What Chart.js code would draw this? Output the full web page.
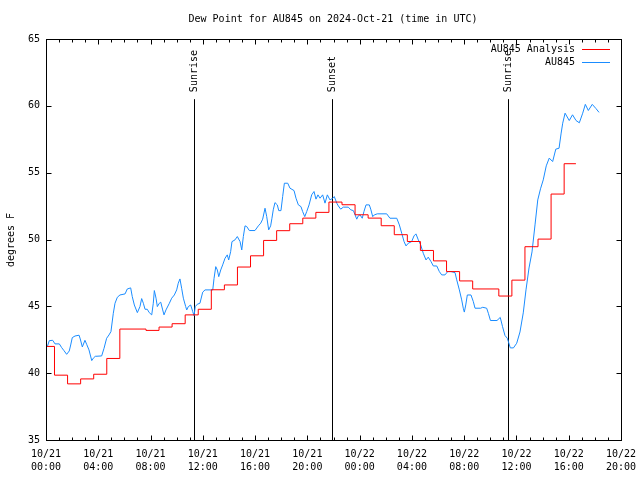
<!DOCTYPE html>
<html>
<head>
<meta charset="utf-8">
<script src="https://cdn.jsdelivr.net/npm/chart.js@4/dist/chart.umd.min.js"></script>
<style>
  html, body { margin: 0; padding: 0; background: #fff; }
  #wrap { width: 640px; height: 480px; }
</style>
</head>
<body>
<div id="wrap"><canvas id="dew" width="640" height="480"></canvas></div>
<script>
// hours since 2024-10-21 00:00 UTC
const blueHours = [0.10, 0.25, 0.51, 0.69, 1.02, 1.20, 1.38, 1.58, 1.78, 1.89, 2.01, 2.22, 2.53, 2.62, 2.78, 2.98, 3.11, 3.29, 3.50, 3.62,
    3.77, 4.26, 4.44, 4.64, 4.82, 4.97, 5.15, 5.28, 5.46, 5.66, 6.05, 6.22, 6.48, 6.60, 6.76, 6.99, 7.19, 7.32, 7.45, 7.58,
    7.75, 7.90, 8.09, 8.21, 8.29, 8.42, 8.52, 8.67, 8.78, 8.93, 9.03, 9.18, 9.44, 9.62, 9.82, 10.00, 10.12, 10.25, 10.38, 10.51,
    10.69, 10.77, 10.89, 11.07, 11.23, 11.33, 11.42, 11.58, 11.78, 11.99, 12.17, 12.76, 12.86, 12.99, 13.11, 13.22, 13.37, 13.52, 13.70, 13.87,
    13.98, 14.13, 14.23, 14.46, 14.64, 14.85, 14.98, 15.10, 15.23, 15.36, 15.56, 15.99, 16.25, 16.43, 16.58, 16.76, 16.89, 17.04, 17.19, 17.29,
    17.39, 17.52, 17.70, 17.81, 17.98, 18.11, 18.24, 18.50, 18.67, 18.98, 19.13, 19.31, 19.51, 19.64, 19.80, 19.95, 20.13, 20.33, 20.51, 20.66,
    20.81, 20.97, 21.17, 21.35, 21.53, 21.73, 21.94, 22.06, 22.25, 22.37, 22.55, 22.75, 23.13, 23.32, 23.52, 23.65, 23.78, 23.90, 24.03, 24.20,
    24.33, 24.49, 24.74, 24.85, 25.00, 25.12, 25.35, 26.07, 26.32, 26.84, 27.04, 27.22, 27.40, 27.55, 27.72, 27.98, 28.16, 28.31, 28.49, 28.67,
    28.87, 29.08, 29.25, 29.46, 29.64, 29.90, 30.10, 30.28, 30.53, 30.74, 30.99, 31.30, 31.43, 31.63, 31.81, 31.93, 32.01, 32.12, 32.24, 32.52,
    32.70, 32.83, 33.26, 33.42, 33.72, 33.85, 34.01, 34.51, 34.76, 34.93, 35.12, 35.30, 35.39, 35.53, 35.77, 36.02, 36.27, 36.52, 36.73, 36.96,
    37.19, 37.42, 37.63, 37.84, 38.05, 38.28, 38.51, 38.77, 39.01, 39.26, 39.42, 39.54, 39.72, 40.04, 40.29, 40.56, 40.81, 41.07, 41.27, 41.50,
    41.80, 42.09, 42.32];
const blueDewPoint = [41.98, 42.43, 42.46, 42.19, 42.19, 41.91, 41.68, 41.41, 41.66, 42.11, 42.66, 42.78, 42.84, 42.56, 41.96, 42.46, 42.16, 41.74, 40.94, 41.12,
    41.26, 41.29, 41.86, 42.61, 42.86, 43.11, 44.48, 45.23, 45.68, 45.85, 45.93, 46.30, 46.38, 45.73, 45.10, 44.53, 44.98, 45.58, 45.23, 44.78,
    44.78, 44.53, 44.36, 45.23, 46.18, 45.61, 44.98, 45.23, 45.31, 44.73, 44.36, 44.73, 45.23, 45.61, 45.85, 46.23, 46.73, 47.05, 46.35, 45.61,
    44.98, 44.73, 44.98, 45.10, 44.60, 44.30, 44.98, 45.16, 45.23, 46.06, 46.23, 46.23, 47.10, 47.97, 47.72, 47.22, 47.72, 48.10, 48.60, 48.85,
    48.47, 49.09, 49.84, 49.97, 50.22, 49.84, 49.22, 50.22, 51.02, 50.97, 50.67, 50.67, 51.02, 51.22, 51.52, 52.34, 51.71, 50.72, 51.02, 51.59,
    52.22, 52.76, 52.59, 52.16, 52.16, 53.21, 54.21, 54.21, 53.84, 53.66, 53.09, 52.59, 52.46, 52.09, 51.71, 52.09, 52.59, 53.34, 53.59, 53.02,
    53.34, 53.09, 53.34, 52.72, 53.34, 52.96, 53.09, 53.21, 52.72, 52.51, 52.27, 52.42, 52.42, 52.22, 52.16, 51.84, 51.52, 51.77, 51.84, 51.59,
    52.09, 52.59, 52.59, 52.27, 51.71, 51.84, 51.92, 51.92, 51.59, 51.59, 51.09, 50.47, 49.84, 49.52, 49.72, 49.84, 50.27, 50.42, 49.97, 49.60,
    48.97, 48.47, 48.68, 48.35, 48.02, 48.02, 47.60, 47.35, 47.35, 47.60, 47.60, 47.52, 46.98, 46.23, 45.48, 44.86, 44.57, 45.10, 45.85, 45.85,
    45.35, 44.86, 44.86, 44.93, 44.86, 44.48, 43.94, 43.94, 44.17, 43.50, 42.82, 42.61, 42.34, 41.89, 41.89, 42.24, 43.08, 44.51, 46.23, 47.87,
    49.07, 51.09, 52.96, 53.79, 54.46, 55.51, 56.09, 55.83, 56.76, 56.83, 57.96, 58.70, 59.45, 58.90, 59.33, 58.90, 58.73, 59.45, 60.11, 59.65,
    60.11, 59.79, 59.51];

// analysis: value holds from each time until the next one
const redHours = [0, 0.65, 1.65, 2.65, 3.65, 4.65, 5.65, 7.65, 8.65, 9.65, 10.65, 11.65, 12.65, 13.65, 14.65, 15.65, 16.65, 17.65, 18.65, 19.65,
    20.65, 21.65, 22.65, 23.65, 24.65, 25.65, 26.65, 27.65, 28.65, 29.65, 30.65, 31.65, 32.65, 34.65, 35.65, 36.65, 37.65, 38.65, 39.65, 40.55];
const redDewPoint = [42.0, 39.85, 39.2, 39.57, 39.92, 41.1, 43.3, 43.2, 43.45, 43.7, 44.36, 44.78, 46.24, 46.6, 47.94, 48.78, 49.93, 50.66, 51.18, 51.6,
    52.03, 52.8, 52.6, 51.85, 51.6, 51.03, 50.36, 49.85, 49.18, 48.4, 47.6, 46.9, 46.3, 45.77, 46.96, 49.46, 50.03, 53.4, 55.67, 55.67];

const eventHours = [11.35, 21.9, 35.37];
const eventNames = ['Sunrise', 'Sunset', 'Sunrise'];

const xTickLabels = ['10/21 00:00', '10/21 04:00', '10/21 08:00', '10/21 12:00', '10/21 16:00', '10/21 20:00',
    '10/22 00:00', '10/22 04:00', '10/22 08:00', '10/22 12:00', '10/22 16:00', '10/22 20:00'];

const FONT = '10px "DejaVu Sans Mono"';
const RED = '#ff0000';
const BLUE = '#1a8cff';

const decor = {
    id: 'decor',
    beforeDatasetsDraw(chart) {
        const { ctx, chartArea: a, scales: { x } } = chart;
        const h = a.bottom - a.top;
        ctx.save();
        ctx.strokeStyle = '#000';
        ctx.fillStyle = '#000';
        ctx.lineWidth = 1;
        ctx.font = FONT;
        eventHours.forEach((t, i) => {
            const px = Math.round(x.getPixelForValue(t)) + 0.5;
            ctx.beginPath();
            ctx.moveTo(px, a.bottom - 0.85 * h);
            ctx.lineTo(px, a.bottom);
            ctx.stroke();
            ctx.save();
            ctx.translate(px, a.bottom - 0.87 * h + 1);
            ctx.rotate(-Math.PI / 2);
            ctx.textAlign = 'left';
            ctx.textBaseline = 'middle';
            ctx.fillText(eventNames[i], 0, 0);
            ctx.restore();
        });
        ctx.restore();
    },
    afterDraw(chart) {
        const { ctx, chartArea: a, scales: { x, y } } = chart;
        ctx.save();
        ctx.strokeStyle = '#000';
        ctx.lineWidth = 1;
        const L = Math.round(a.left) + 0.5, R = Math.round(a.right) + 0.5;
        const T = Math.round(a.top) + 0.5, B = Math.round(a.bottom) + 0.5;
        ctx.strokeRect(L, T, R - L, B - T);

        // inward ticks, mirrored on top and right
        ctx.beginPath();
        for (let hr = 0; hr <= 44; hr++) {
            const px = Math.round(x.getPixelForValue(hr)) + 0.5;
            const len = hr % 4 === 0 ? 5 : 3;
            ctx.moveTo(px, B); ctx.lineTo(px, B - len);
            ctx.moveTo(px, T); ctx.lineTo(px, T + len);
        }
        for (let v = 35; v <= 65; v += 5) {
            const py = Math.round(y.getPixelForValue(v)) + 0.5;
            ctx.moveTo(L, py); ctx.lineTo(L + 5, py);
            ctx.moveTo(R, py); ctx.lineTo(R - 5, py);
        }
        ctx.stroke();

        ctx.fillStyle = '#000';
        ctx.font = FONT;
        ctx.textBaseline = 'middle';
        ctx.textAlign = 'center';
        ctx.fillText('Dew Point for AU845 on 2024-Oct-21 (time in UTC)', 333, 19);

        ctx.save();
        ctx.translate(11, 240);
        ctx.rotate(-Math.PI / 2);
        ctx.fillText('degrees F', 0, 0);
        ctx.restore();

        // key
        const keys = [['AU845 Analysis', RED, 49], ['AU845', BLUE, 62]];
        ctx.textAlign = 'right';
        keys.forEach(([label, col, ky]) => {
            ctx.fillStyle = '#000';
            ctx.fillText(label, 575, ky);
            ctx.strokeStyle = col;
            ctx.beginPath();
            ctx.moveTo(582, ky + 0.5);
            ctx.lineTo(610, ky + 0.5);
            ctx.stroke();
        });
        ctx.restore();
    }
};

new Chart(document.getElementById('dew'), {
    type: 'line',
    data: {
        datasets: [
            {
                label: 'AU845 Analysis',
                data: redHours.map((t, i) => ({ x: t, y: redDewPoint[i] })),
                borderColor: RED,
                borderWidth: 1,
                pointRadius: 0,
                stepped: true,
                fill: false
            },
            {
                label: 'AU845',
                data: blueHours.map((t, i) => ({ x: t, y: blueDewPoint[i] })),
                borderColor: BLUE,
                borderWidth: 1,
                pointRadius: 0,
                tension: 0,
                fill: false
            }
        ]
    },
    options: {
        responsive: false,
        animation: false,
        devicePixelRatio: 1,
        layout: { padding: { left: 0, right: 19, top: 39, bottom: 0 } },
        plugins: { legend: { display: false }, title: { display: false }, tooltip: { enabled: false } },
        scales: {
            x: {
                type: 'linear',
                min: 0,
                max: 44,
                border: { display: false },
                grid: { display: false, drawTicks: false },
                ticks: {
                    stepSize: 4,
                    autoSkip: false,
                    maxRotation: 0,
                    padding: 8,
                    color: '#000',
                    font: { family: 'DejaVu Sans Mono', size: 10, lineHeight: 1.3 },
                    callback: v => (v % 4 === 0 ? xTickLabels[v / 4].split(' ') : '')
                },
                afterFit: s => { s.height = 40; s.paddingLeft = 0; s.paddingRight = 0; }
            },
            y: {
                min: 35,
                max: 65,
                border: { display: false },
                grid: { display: false, drawTicks: false },
                ticks: {
                    stepSize: 5,
                    padding: 6,
                    color: '#000',
                    font: { family: 'DejaVu Sans Mono', size: 10 }
                },
                afterFit: s => { s.width = 46; s.paddingTop = 0; s.paddingBottom = 0; }
            }
        }
    },
    plugins: [decor]
});
</script>
</body>
</html>
